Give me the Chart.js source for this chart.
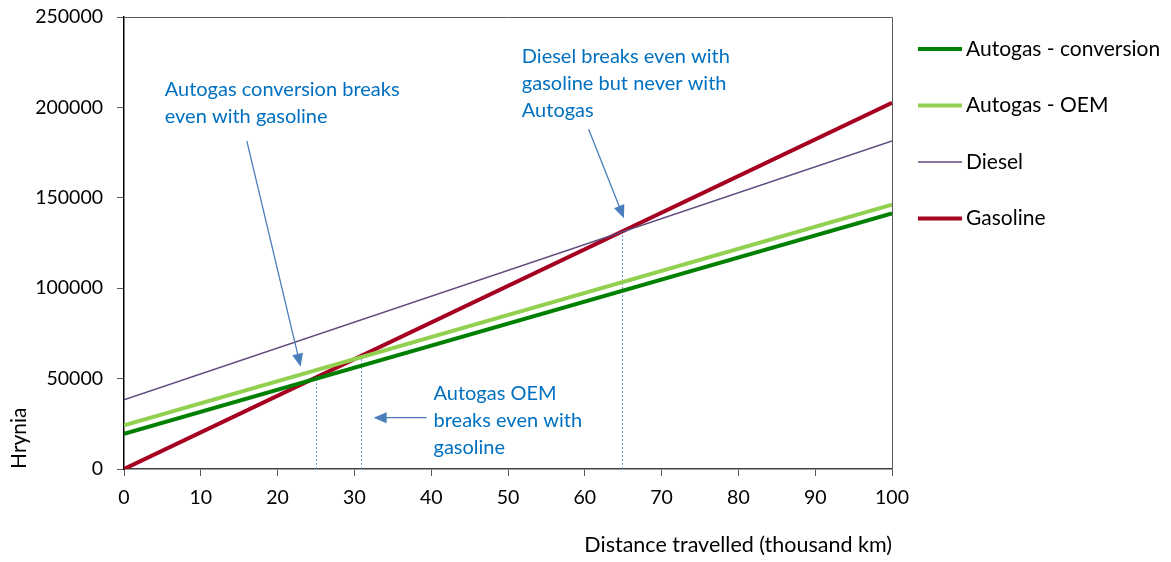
<!DOCTYPE html>
<html>
<head>
<meta charset="utf-8">
<script src="https://cdn.jsdelivr.net/npm/chart.js@4/dist/chart.umd.min.js"></script>
<style>
  html, body { margin: 0; padding: 0; background: #fff; }
  #wrap { width: 1171px; height: 562px; position: relative; }
</style>
</head>
<body>
<div id="wrap"><canvas id="c"></canvas></div>
<script>
// ---- data ----
const distanceKm = [0, 100];                       // thousand km
const seriesNames = ['Autogas - conversion', 'Autogas - OEM', 'Diesel', 'Gasoline'];
const autogasConversion = [19400, 141400];
const autogasOEM = [24200, 146200];
const diesel = [38300, 181400];
const gasoline = [0, 202500];
const yTicks = [0, 50000, 100000, 150000, 200000, 250000];
const xTicks = [0, 10, 20, 30, 40, 50, 60, 70, 80, 90, 100];

// break-even markers (x in thousand km, y in Hrynia)
const breakEvenX = [25.0, 30.9, 64.8];
const breakEvenY = [50600, 62000, 131000];

// annotations
const noteTexts = [
  ['Autogas conversion breaks', 'even with gasoline'],
  ['Diesel breaks even with', 'gasoline but never with', 'Autogas'],
  ['Autogas OEM', 'breaks even with', 'gasoline']
];
const noteX = [5.3, 51.8, 40.3];
const noteY = [209600, 227900, 42000];
const arrowFromX = [16.0, 60.5, 39.4];
const arrowFromY = [181400, 187900, 28400];
const arrowToX = [23.0, 65.1, 32.5];
const arrowToY = [56600, 138700, 28400];

// ---- styles ----
const colors = ['#008000', '#92D050', '#604A7B', '#A50021'];
const widths = [4, 4, 1.5, 4];
const FONT = 'Lato, "Open Sans", sans-serif';
const seriesValues = [autogasConversion, autogasOEM, diesel, gasoline];

const datasets = seriesNames.map((name, i) => ({
  label: name,
  data: distanceKm.map((x, j) => ({ x: x, y: seriesValues[i][j] })),
  borderColor: colors[i],
  backgroundColor: colors[i],
  borderWidth: widths[i],
  pointRadius: 0,
  tension: 0,
  fill: false
}));

function arrowHead(ctx, x1, y1, x2, y2, len, half) {
  const a = Math.atan2(y2 - y1, x2 - x1);
  ctx.beginPath();
  ctx.moveTo(x2, y2);
  ctx.lineTo(x2 - len * Math.cos(a) + half * Math.sin(a), y2 - len * Math.sin(a) - half * Math.cos(a));
  ctx.lineTo(x2 - len * Math.cos(a) - half * Math.sin(a), y2 - len * Math.sin(a) + half * Math.cos(a));
  ctx.closePath();
  ctx.fill();
}

const decorPlugin = {
  id: 'decor',
  beforeDatasetsDraw(chart) {
    const ctx = chart.ctx, xs = chart.scales.x, ys = chart.scales.y, a = chart.chartArea;
    ctx.save();
    // plot frame top + right
    ctx.strokeStyle = '#595959';
    ctx.lineWidth = 1;
    ctx.beginPath();
    ctx.moveTo(a.left, a.top + 0.5);
    ctx.lineTo(a.right + 0.5, a.top + 0.5);
    ctx.lineTo(a.right + 0.5, a.bottom);
    ctx.stroke();
    // break-even dashed verticals
    ctx.strokeStyle = '#6A9BD8';
    ctx.setLineDash([2, 2]);
    for (let i = 0; i < breakEvenX.length; i++) {
      const px = Math.round(xs.getPixelForValue(breakEvenX[i])) + 0.5;
      ctx.beginPath();
      ctx.moveTo(px, ys.getPixelForValue(0));
      ctx.lineTo(px, ys.getPixelForValue(breakEvenY[i]));
      ctx.stroke();
    }
    ctx.restore();
  },
  afterDraw(chart) {
    const ctx = chart.ctx, xs = chart.scales.x, ys = chart.scales.y;
    ctx.save();
    // arrows
    ctx.strokeStyle = '#4A7EBB';
    ctx.fillStyle = '#4A7EBB';
    ctx.lineWidth = 1.3;
    for (let i = 0; i < arrowFromX.length; i++) {
      const x1 = xs.getPixelForValue(arrowFromX[i]), y1 = ys.getPixelForValue(arrowFromY[i]);
      const x2 = xs.getPixelForValue(arrowToX[i]), y2 = ys.getPixelForValue(arrowToY[i]);
      const a = Math.atan2(y2 - y1, x2 - x1);
      ctx.beginPath();
      ctx.moveTo(x1, y1);
      ctx.lineTo(x2 - 10 * Math.cos(a), y2 - 10 * Math.sin(a));
      ctx.stroke();
      arrowHead(ctx, x1, y1, x2, y2, 13, 5.5);
    }
    // annotation text
    ctx.fillStyle = '#0070C0';
    ctx.font = '20px ' + FONT;
    ctx.textBaseline = 'middle';
    ctx.textAlign = 'left';
    for (let i = 0; i < noteTexts.length; i++) {
      const px = xs.getPixelForValue(noteX[i]), py = ys.getPixelForValue(noteY[i]);
      noteTexts[i].forEach((t, k) => ctx.fillText(t, px, py + k * 27));
    }
    // legend
    ctx.font = '21px ' + FONT;
    const lx = 918, ly0 = 49, step = 56.5;
    chart.data.datasets.forEach((ds, i) => {
      const y = ly0 + i * step;
      ctx.strokeStyle = ds.borderColor;
      ctx.lineWidth = ds.borderWidth;
      ctx.beginPath();
      ctx.moveTo(lx, y);
      ctx.lineTo(lx + 44, y);
      ctx.stroke();
      ctx.fillStyle = '#000';
      ctx.fillText(ds.label, lx + 48, y);
    });
    ctx.restore();
  }
};

new Chart(document.getElementById('c'), {
  type: 'line',
  data: { datasets: datasets },
  options: {
    responsive: true,
    maintainAspectRatio: false,
    animation: false,
    layout: { padding: { left: 0, right: 279, top: 17, bottom: 0 } },
    plugins: { legend: { display: false }, tooltip: { enabled: false } },
    scales: {
      x: {
        type: 'linear',
        min: 0, max: 100,
        afterBuildTicks: (s) => { s.ticks = xTicks.map(v => ({ value: v })); },
        afterFit: (s) => { s.height = 93; s.paddingTop = 0; s.paddingBottom = 0; },
        ticks: { color: '#000', font: { family: FONT, size: 19.5 }, padding: 10, maxRotation: 0 },
        grid: { drawOnChartArea: false, drawTicks: true, tickLength: 7, color: '#595959' },
        border: { color: '#404040', width: 1.5 },
        title: { display: true, text: 'Distance travelled (thousand km)', align: 'end', color: '#000',
                 font: { family: FONT, size: 21.5 }, padding: { top: 16, bottom: 4 } }
      },
      y: {
        min: 0, max: 250000,
        afterBuildTicks: (s) => { s.ticks = yTicks.map(v => ({ value: v })); },
        afterFit: (s) => { s.width = 124; s.paddingTop = 0; s.paddingBottom = 0; },
        ticks: { color: '#000', font: { family: FONT, size: 19.5 }, padding: 14, callback: (v) => String(v) },
        grid: { drawOnChartArea: false, drawTicks: true, tickLength: 7, color: '#595959' },
        border: { color: '#000', width: 1.5 },
        title: { display: true, text: 'Hrynia', align: 'start', color: '#000',
                 font: { family: FONT, size: 21 }, padding: { top: 7, bottom: 4 } }
      }
    }
  },
  plugins: [decorPlugin]
});
</script>
</body>
</html>
